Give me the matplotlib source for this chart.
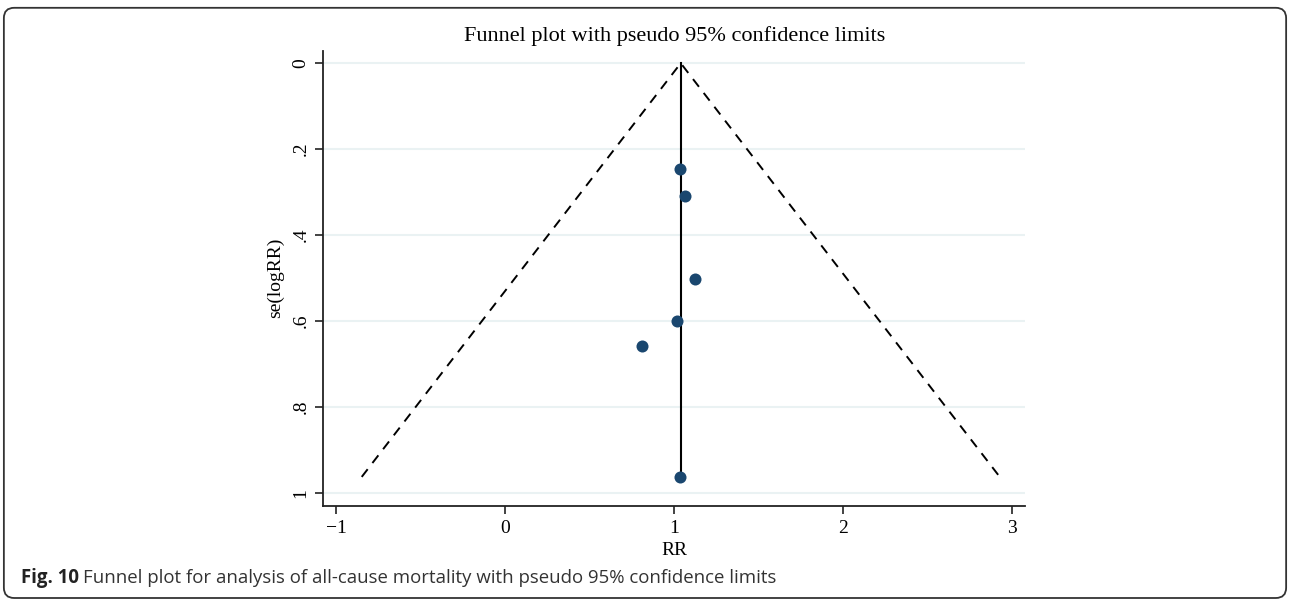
import numpy as np
import matplotlib
matplotlib.use("Agg")
import matplotlib.pyplot as plt
from matplotlib.patches import FancyBboxPatch

# study estimates
rr = [1.036, 1.065, 1.126, 1.020, 0.813, 1.038]
se_logrr = [0.247, 0.309, 0.502, 0.599, 0.658, 0.963]
pooled = 1.04

xticks = [-1, 0, 1, 2, 3]
xticklabels = ["\u22121", "0", "1", "2", "3"]
yticks = [0, 0.2, 0.4, 0.6, 0.8, 1.0]
yticklabels = ["0", ".2", ".4", ".6", ".8", "1"]

serif = "Liberation Serif"

fig = plt.figure(figsize=(12.9, 6.01), dpi=100)
ax = fig.add_axes([0.2506, 0.1586, 0.544, 0.757])

# pseudo 95% limits
se_max = max(se_logrr)
ax.plot([pooled - 1.96 * se_max, pooled, pooled + 1.96 * se_max],
        [se_max, 0, se_max], color="black", lw=1.4, ls=(0, (5, 4)), zorder=3)
ax.plot([pooled, pooled], [0, se_max], color="black", lw=1.5, zorder=3)
ax.scatter(rr, se_logrr, s=75, color="#1a476f", zorder=4, linewidths=0)

ax.set_xlim(-1.075, 3.077)
ax.set_ylim(1.030, -0.029)
for y in yticks:
    ax.axhline(y, color="#eaf2f3", lw=1.5, zorder=1)

ax.set_xticks(xticks)
ax.set_xticklabels(xticklabels, fontfamily=serif, fontsize=14)
ax.set_yticks(yticks)
ax.set_yticklabels(yticklabels, fontfamily=serif, fontsize=14,
                   rotation=90, va="center")
ax.tick_params(direction="out", length=6, width=1.2, color="#222222", pad=4)

for s in ["top", "right"]:
    ax.spines[s].set_visible(False)
for s in ["left", "bottom"]:
    ax.spines[s].set_linewidth(1.3)
    ax.spines[s].set_color("#222222")

ax.set_xlabel("RR", fontfamily=serif, fontsize=14, labelpad=4)
ax.set_ylabel("se(logRR)", fontfamily=serif, fontsize=14, labelpad=6)
ax.set_title("Funnel plot with pseudo 95% confidence limits",
             fontfamily=serif, fontsize=16, pad=7)

# figure frame and caption
frame = FancyBboxPatch((0.003, 0.005), 0.994, 0.982,
                       boxstyle="round,pad=0,rounding_size=0.008",
                       transform=fig.transFigure, fill=False,
                       edgecolor="#333333", lw=1.3,
                       mutation_aspect=1290 / 601)
fig.patches.append(frame)
cap_bold = fig.text(0.016, 0.038, "Fig. 10", fontfamily="Open Sans",
                    fontweight="bold", fontsize=13.4, va="center", ha="left",
                    color="#222222")
renderer = fig.canvas.get_renderer()
bb = cap_bold.get_window_extent(renderer)
fig.text(bb.x1 / fig.bbox.width + 0.0035, 0.038,
         "Funnel plot for analysis of all-cause mortality with pseudo 95% confidence limits",
         fontfamily="Open Sans", fontsize=13.4, va="center", ha="left",
         color="#333333")

fig.savefig("out.png", dpi=100)
